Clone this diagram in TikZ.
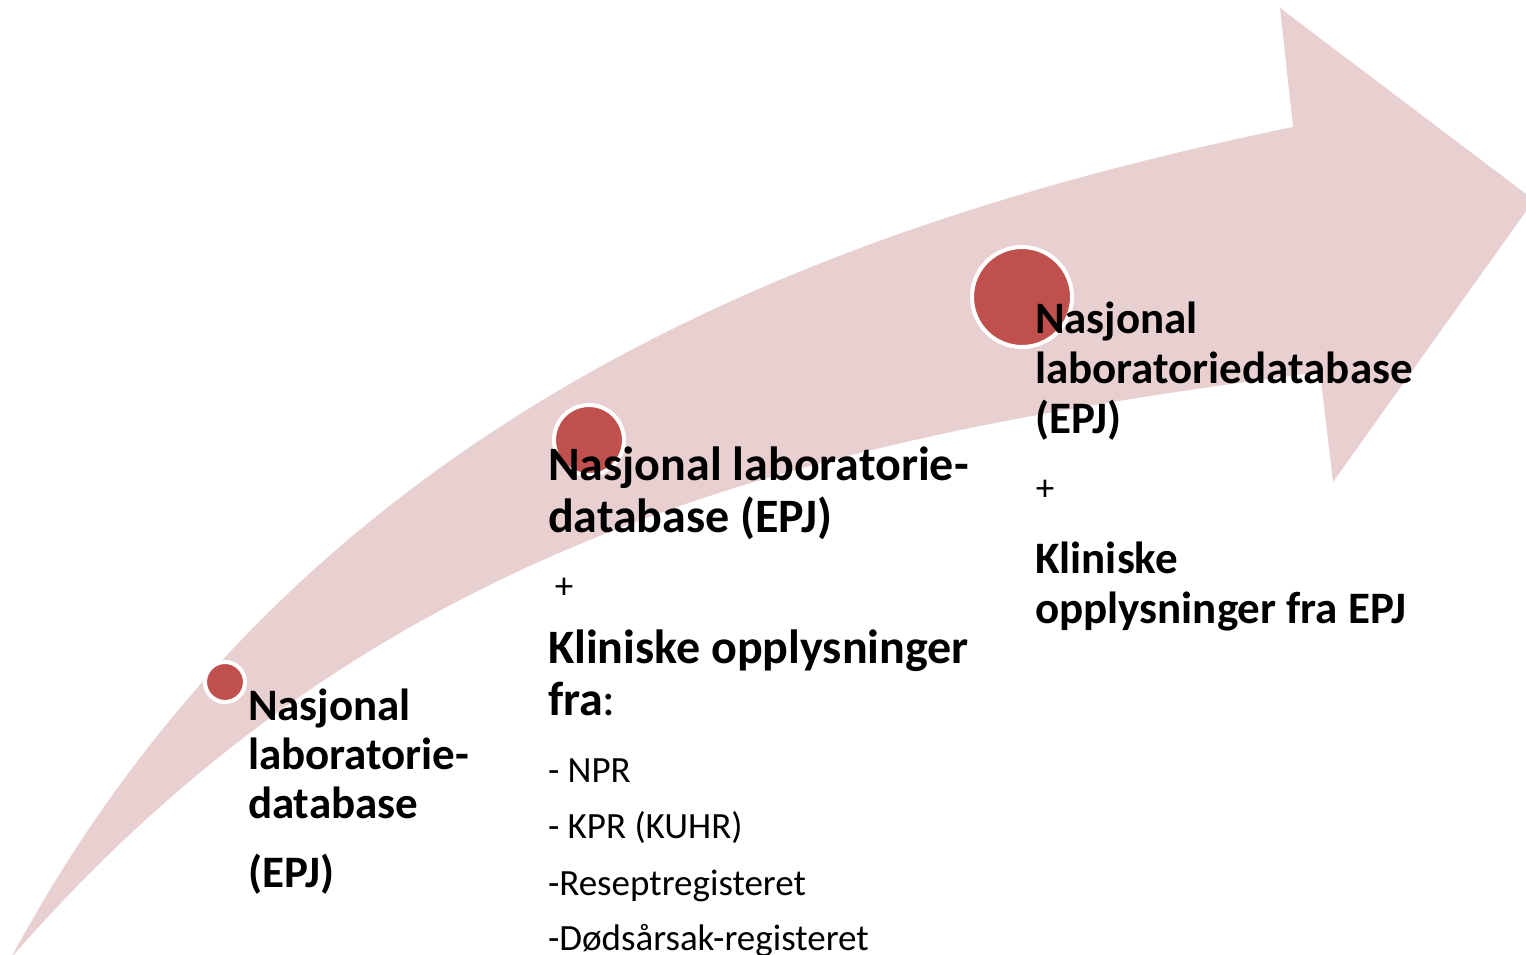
\documentclass[tikz,border=0pt]{standalone}
\usepackage{fontspec}
\setmainfont{Carlito}
\definecolor{arrowpink}{HTML}{E8D0D1}
\definecolor{dotred}{HTML}{C0504D}
\begin{document}
\begin{tikzpicture}[x=1pt,y=-1pt,
  bigtxt/.style={font=\fontsize{45}{50}\selectfont\bfseries, anchor=base west, inner sep=0pt, outer sep=0pt},
  midtxt/.style={font=\fontsize{48}{52}\selectfont\bfseries, anchor=base west, inner sep=0pt, outer sep=0pt},
  smalltxt/.style={font=\fontsize{37}{44}\selectfont, anchor=base west, inner sep=0pt, outer sep=0pt},
  plustxt/.style={font=\fontsize{37}{44}\selectfont, anchor=center, inner sep=0pt, outer sep=0pt},
  dot/.style={circle, fill=dotred, draw=white, line width=4pt, inner sep=0pt, outer sep=0pt}]
\useasboundingbox (0,0) rectangle (1526,955);
% big curved arrow
\coordinate (tail) at (11,958);
\coordinate (us) at (1293,127);
\coordinate (ub) at (1280,8);
\coordinate (tip) at (1534,200);
\coordinate (lb) at (1333,482);
\coordinate (ls) at (1320,372);
\fill[arrowpink] (tail) .. controls (300,420) and (813,226) .. (us)
  -- (ub) -- (tip) -- (lb) -- (ls)
  .. controls (820,437) and (383,530) .. (tail) -- cycle;
% dots
\node[dot, minimum size=40pt] (d1) at (225,682) {};
\node[dot, minimum size=70pt] (d2) at (589,440) {};
\node[dot, minimum size=100pt] (d3) at (1022,297) {};
% left column
\node[bigtxt] (l1) at (248,720) {Nasjonal};
\node[bigtxt] (l2) at (248,769) {laboratorie-};
\node[bigtxt] (l3) at (248,818) {database};
\node[bigtxt] (l4) at (248,887) {(EPJ)};
% middle column
\node[midtxt] (m1) at (548,480) {Nasjonal laboratorie-};
\node[midtxt] (m2) at (548,532) {database (EPJ)};
\node[plustxt] (mp) at (564,588) {+};
\node[midtxt] (m3) at (548,663) {Kliniske opplysninger};
\node[midtxt] (m4) at (548,715) {fra{\mdseries:}};
\node[smalltxt] (m5) at (548,782) {- NPR};
\node[smalltxt] (m6) at (548,838) {- KPR (KUHR)};
\node[smalltxt] (m7) at (548,895) {-Reseptregisteret};
\node[smalltxt] (m8) at (548,950) {-Dødsårsak-registeret};
% right column
\node[bigtxt] (r1) at (1035,333) {Nasjonal};
\node[bigtxt] (r2) at (1035,383) {laboratoriedatabase};
\node[bigtxt] (r3) at (1035,433) {(EPJ)};
\node[plustxt] (rp) at (1045,490) {+};
\node[bigtxt] (r4) at (1035,573) {Kliniske};
\node[bigtxt] (r5) at (1035,623) {opplysninger fra EPJ};
\end{tikzpicture}
\end{document}
